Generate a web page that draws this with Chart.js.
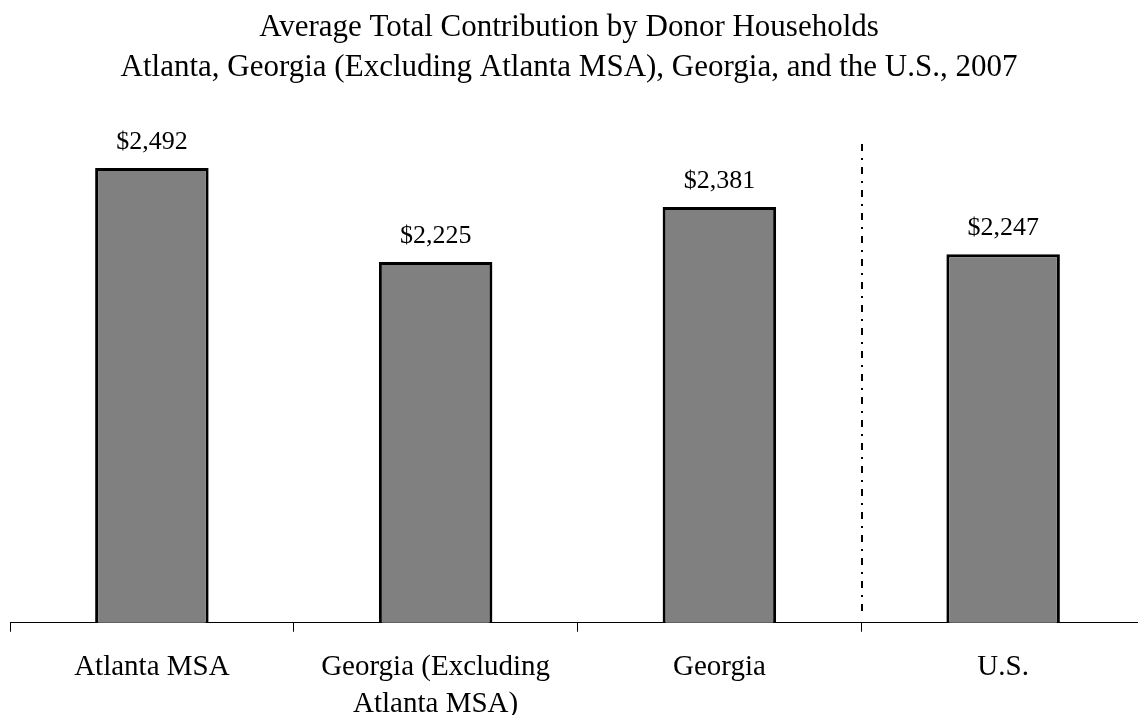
<!DOCTYPE html>
<html>
<head>
<meta charset="utf-8">
<script src="https://cdn.jsdelivr.net/npm/chart.js@4/dist/chart.umd.min.js"></script>
<style>
  html, body { margin: 0; padding: 0; background: #fff; overflow: hidden; }
  #wrap { position: relative; width: 1160px; height: 752px; }
</style>
</head>
<body>
<div id="wrap"><canvas id="donorChart"></canvas></div>
<script>
// values
const categories = [['Atlanta MSA'], ['Georgia (Excluding', 'Atlanta MSA)'], ['Georgia'], ['U.S.']];
const avgContribution = [2492, 2225, 2381, 2247];
const titleLines = [
  'Average Total Contribution by Donor Households',
  'Atlanta, Georgia (Excluding Atlanta MSA), Georgia, and the U.S., 2007'
];
const separatorAfter = 2.5; // between Georgia and U.S.

const SERIF = '"Liberation Serif", "Times New Roman", serif';

function money(v){ return '$' + v.toLocaleString('en-US'); }

// title centred on the visible window (the plot runs a little past the right edge)
const pageTitle = {
  id: 'pageTitle',
  afterDraw(chart){
    const ctx = chart.ctx;
    const cx = window.innerWidth / 2;
    ctx.save();
    ctx.font = '31px ' + SERIF;
    ctx.fillStyle = '#000';
    ctx.textAlign = 'center';
    ctx.textBaseline = 'alphabetic';
    titleLines.forEach(function(line, i){ ctx.fillText(line, cx, 36 + i * 40); });
    ctx.restore();
  }
};

// value labels above each bar
const valueLabels = {
  id: 'valueLabels',
  afterDatasetsDraw(chart){
    const ctx = chart.ctx;
    const meta = chart.getDatasetMeta(0);
    ctx.save();
    ctx.font = '26px ' + SERIF;
    ctx.fillStyle = '#000';
    ctx.textAlign = 'center';
    ctx.textBaseline = 'alphabetic';
    meta.data.forEach(function(bar, i){
      ctx.fillText(money(avgContribution[i]), bar.x, bar.y - 19);
    });
    ctx.restore();
  }
};

// dash-dot divider before the U.S. bar
const divider = {
  id: 'divider',
  afterDatasetsDraw(chart){
    const ctx = chart.ctx, area = chart.chartArea;
    const x = Math.round(chart.scales.x.getPixelForValue(separatorAfter)) + 1;
    ctx.save();
    ctx.strokeStyle = '#000';
    ctx.lineWidth = 2;
    ctx.setLineDash([7, 7, 2, 7]);
    ctx.beginPath();
    ctx.moveTo(x, area.top + 14);
    ctx.lineTo(x, area.bottom - 8);
    ctx.stroke();
    ctx.restore();
  }
};

new Chart(document.getElementById('donorChart').getContext('2d'), {
  type: 'bar',
  data: {
    labels: categories,
    datasets: [{
      data: avgContribution,
      backgroundColor: '#808080',
      borderColor: '#000',
      borderWidth: 3,
      borderSkipped: 'bottom',
      barPercentage: 0.4,
      categoryPercentage: 1
    }]
  },
  options: {
    responsive: true,
    maintainAspectRatio: false,
    animation: false,
    layout: { padding: { left: 10, right: 15, top: 130, bottom: 12 } },
    plugins: {
      legend: { display: false },
      tooltip: { enabled: false },
      title: { display: false }
    },
    scales: {
      x: {
        offset: true,
        grid: { display: true, drawOnChartArea: false, tickLength: 9, color: '#000', offset: true },
        border: { display: true, color: '#000', width: 1 },
        ticks: {
          color: '#000',
          padding: 17,
          maxRotation: 0,
          autoSkip: false,
          font: { family: SERIF, size: 29, lineHeight: 1.28 }
        }
      },
      y: {
        display: false,
        min: 1200,
        max: 2600
      }
    }
  },
  plugins: [pageTitle, valueLabels, divider]
});
</script>
</body>
</html>
